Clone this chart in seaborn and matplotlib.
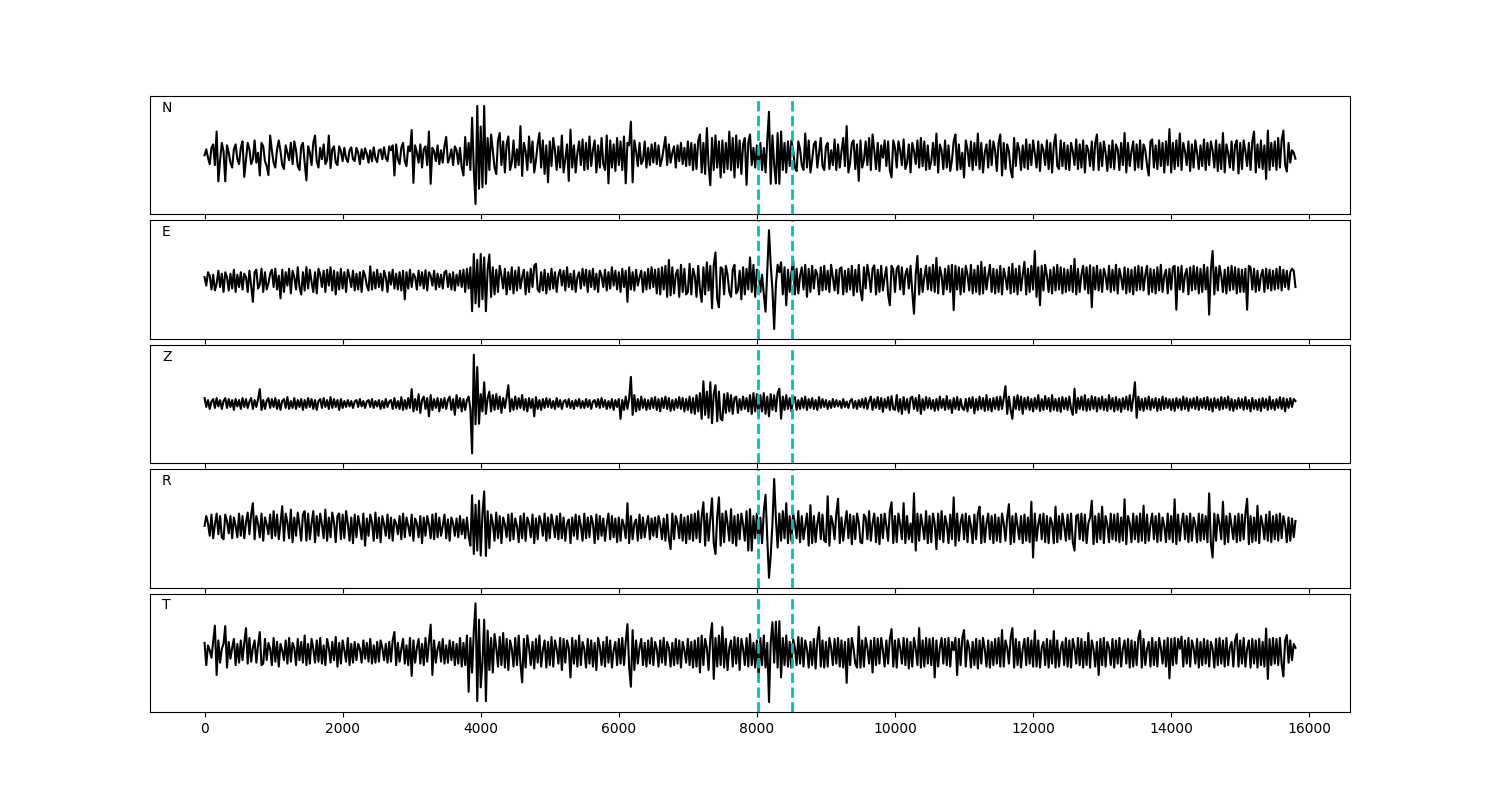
import numpy as np
import pandas as pd
import matplotlib
matplotlib.use("Agg")
import matplotlib.pyplot as plt
import seaborn as sns

# Sampling interval of the traces (samples)
dt = 25

components = ["N", "E", "Z", "R", "T"]

trace_N = [
    0, 12, -5, -18, 15, 22, -20, 48, -53, -10, 25, 8, -53, 20, 5, -15, -25, 12, 22, -8,
    -18, 15, 28, -44, -10, 25, 12, -18, -8, 30, -15, 5, -41, 25, 18, -12, -22, -40, 40, 10,
    -15, -25, 12, 30, 8, -20, -28, 20, 5, -10, 25, -18, 28, 10, -22, -30, 18, 25, -15, -51,
    18, 5, -20, 25, 40, -12, -25, 15, -8, 22, -18, -10, 40, -26, 12, 18, -15, -20, 18, 8,
    -12, 15, -6, -14, 10, 16, -8, -12, 15, 5, -18, 12, -8, 14, 3, -15, 10, -12, 16, -6,
    -14, 10, 12, -8, 16, -5, -12, 18, 10, 20, -41, 22, -8, -18, 15, 25, -12, -22, 18, 8,
    51, -56, 20, 5, -15, 22, -25, 12, 18, -20, 48, -58, 15, 8, -12, 20, -18, 10, -15, 18,
    37, -15, -5, 12, -20, 18, 10, -18, 15, -25, -41, 37, -20, 25, -30, 76, -30, -99, 100, -68,
    58, -65, 100, -58, 35, -30, 42, 10, -25, -38, 30, 45, -20, 28, -35, 22, 38, -30, -15, 30,
    -25, 12, -20, 59, -42, 25, 8, -30, 38, -15, 28, -35, -10, 22, 45, -25, 30, -38, 20, -55,
    28, -22, 35, 10, -30, 18, -25, 40, -35, -8, 22, -52, 52, -25, 20, -35, 5, 28, -20, 32,
    -30, 25, -28, 38, -22, 10, 30, -35, 20, -25, 35, -18, -30, 40, -57, 30, -25, 22, -32, 35,
    -20, 28, -30, 38, -57, 25, 20, 68, -55, 30, 8, -22, 25, -18, -10, 28, -25, 15, -20, 22,
    -15, 25, -18, 20, -22, -8, 15, 37, -20, 22, -15, 5, 18, -25, 20, -12, 25, -18, 15, -22,
    28, -20, 25, -30, 22, -28, 30, 42, -35, 25, -38, 55, -20, -61, 35, -30, 40, -25, 28, -45,
    30, -35, 25, -28, 48, -30, 35, -45, 40, -25, 30, -38, 22, 35, -60, 25, 42, -20, 15, -25,
    20, -18, 25, -30, 15, -35, 30, 88, -58, 40, -20, -57, 45, -58, 48, -30, 25, -35, 28, -22,
    30, 10, -25, -32, 28, 12, -20, -30, 44, -25, 30, -35, -10, 22, 28, -25, 5, 35, -22, -30,
    18, 25, -28, 10, -20, 32, -30, 22, -25, 8, 35, -22, 59, -35, -15, 25, 30, -28, 22, -52,
    30, -25, -10, 28, -20, 35, -30, 42, 10, -28, 25, -32, 20, -5, 30, -22, 28, -30, -45, 30,
    15, -25, 28, 10, -20, 32, -28, -15, 22, -35, 25, 8, -18, 30, -25, 35, -22, 28, -30, 20,
    -28, -12, 25, -20, 44, -35, 22, 10, -28, 30, -25, 20, -32, -10, 28, 42, -30, 22, -28, 5,
    -45, 30, 12, -22, 28, -30, 25, -20, 44, -28, 25, -35, 5, 22, -25, 30, -20, 28, 10, -32,
    25, 42, -41, 25, -28, 22, 8, -30, -45, 35, -22, 25, 10, -30, 20, -25, 32, -28, 22, -20,
    30, 5, -25, 28, -32, 22, 10, -20, 30, -28, 25, -35, 20, 42, -22, -28, 30, -22, 25, -28,
    20, -30, 25, 8, -20, 32, -28, 22, -25, 30, -35, 20, 10, -22, 28, -30, 25, 42, -30, 25,
    -22, 28, 5, -32, 20, -25, 30, -28, 22, 12, -30, 25, -20, 45, -35, 25, -22, 8, 28, -30,
    22, -25, 30, -28, 22, 10, -20, -41, 28, 32, -25, 20, -28, 30, -22, 25, -35, 28, -20, 53,
    -35, 25, -28, 30, -22, 44, -30, 25, 8, -20, 28, -32, 22, -25, 30, 5, -28, 20, -22, 32,
    -30, 25, -20, 28, 10, -25, 30, -32, 22, -28, 45, -35, 22, 5, -25, 28, -30, 20, 30, -37,
    25, -28, 30, 8, -22, 25, -30, 28, 48, -35, 22, -25, 30, -28, 20, -48, 50, -30, 25, -22,
    28, -30, 35, -25, 30, 50, -20, -33, 25, -15, 10, 5, -7,
]

trace_E = [
    5, -12, 15, 8, -20, 10, -22, -8, 18, -15, 12, -25, 15, 5, -22, 12, -18, 20, -25, 10,
    -15, 15, -20, 12, 5, -25, 18, -12, -45, 15, 20, -18, -10, 22, -25, 15, -20, -8, 12, 20,
    -15, 22, -20, 8, -38, 20, -25, 15, -12, 22, -28, 18, 5, -20, 25, -15, -30, 15, -22, 25,
    -18, 20, -5, -25, 15, -28, 22, 10, -15, 18, -25, 20, -12, 25, -22, 18, -30, 15, -20, 22,
    -18, 15, -25, 20, 5, -15, 18, -22, 12, -20, 15, -25, 18, 8, -12, -22, 27, -20, 15, -18,
    20, -15, 12, -22, 18, 5, -25, 15, -10, 20, -18, 12, -20, 15, -22, 18, -40, 15, -18, 20,
    -15, 12, 5, -20, 18, -12, 15, -18, 19, -22, 15, 8, -12, 18, -20, 12, -15, 10, -18, 15,
    18, -15, 12, -20, 15, -22, 10, -12, 18, -15, 20, -25, 22, -18, 25, -64, 52, -48, 40, -55,
    52, -40, 45, -64, 20, 51, -35, 25, -30, 20, -25, 28, 8, -18, 22, -30, 15, -20, 25, -28,
    18, -22, 25, -18, 5, 20, -30, 15, -25, 22, -15, 28, 32, -20, -25, 15, -22, 20, -28, 12,
    -20, 22, -18, 15, -25, 8, 20, -12, 18, -22, 25, -15, 12, -20, 18, -25, 5, 15, -18, 22,
    -12, 20, -25, 18, -15, 22, -20, 12, -25, 18, 8, -15, 20, -22, 15, -18, 25, -12, 18, -20,
    15, -25, 22, -15, 18, -45, 25, -20, 15, -22, 20, -12, 5, 18, -25, 15, -20, 22, -18, 25,
    -15, 20, -28, 22, -30, 25, -20, 28, -35, 40, -32, 25, -28, 10, 20, -35, 30, -25, 22, -30,
    -25, 32, -30, 22, 8, -35, 28, -20, -45, 25, -30, 35, -22, 28, -58, 30, 55, -40, -56, 25,
    22, -30, 28, 10, -25, -35, 20, 30, -28, -22, 18, -40, 25, -30, 22, -20, 45, -25, 30, -35,
    20, 15, -25, 10, -30, -65, 20, 100, 30, -20, -100, -10, 30, 15, 35, -30, 25, -52, 20, -25,
    15, 39, -30, 22, -28, 8, 25, -20, 30, -35, 22, -25, 28, -18, 20, 10, -30, 25, -22, 28,
    -20, 18, -25, 30, 5, -22, 20, -28, 22, 25, -30, 18, -25, 22, -20, 28, -32, 20, -25, 30,
    -22, -42, 25, -18, 30, 8, -25, 22, 29, -30, 20, -25, 28, -22, 5, 25, -30, -52, 28, 20,
    -25, 22, 28, -20, 25, -30, 10, 22, -18, 28, -25, -69, 10, 48, -30, 22, -25, 5, 28, -20,
    25, -22, 30, -25, 44, -28, 25, 8, -30, 22, -20, 28, -25, 30, -62, 28, -20, 25, -30, 22,
    -25, 28, 10, -22, 30, -28, 20, -25, 28, -30, 36, -28, 25, -20, 8, 30, -25, 22, -28, 20,
    -25, 28, -30, 22, 5, -20, 25, -28, 32, -25, 22, -30, 28, -22, 10, 36, -30, 22, -25, 28,
    -20, 58, -35, 25, -52, 28, -22, 30, 8, -25, 20, -28, 25, -22, 30, -20, 25, -28, 22, -25,
    20, -22, 28, -25, 42, -30, 22, -25, 10, 28, -20, 25, -28, 29, -56, 25, -20, 28, -22, 20,
    -25, 22, 8, -20, 28, -25, 20, -22, 30, -28, 22, 5, -20, 25, -28, 22, -25, 20, -30, 25,
    -22, 28, -20, 25, -22, 10, 28, -30, 22, -25, 20, -28, 25, -22, 30, -25, 8, 20, -28, 22,
    -20, 25, 28, -61, 25, -20, 28, -25, 10, 22, -30, 25, -22, 28, -20, 25, -28, 22, -25, 30,
    -20, 25, -71, 20, 58, -30, 25, -22, 28, 8, -25, 20, -28, 25, -22, 28, -20, 25, -28, 22,
    -25, 20, -25, 22, -61, 28, 25, -20, 22, -25, 18, -22, 8, 20, -25, 22, -18, 20, -22, 18,
    -20, 22, -18, 26, -22, 20, -15, 18, -20, 15, 22, 18, -15,
]

trace_Z = [
    12, -6, 8, -10, 5, 10, -8, 12, -5, 8, -10, 6, 12, -8, 10, -6, 8, -12, 10, -5,
    8, -10, 12, -6, 10, -8, 5, 12, -10, 8, -6, 10, 30, -12, 8, -10, 6, 12, -8, 10,
    -6, 12, -10, 8, -12, 6, 10, -8, 14, -10, 6, -8, 12, -10, 8, -6, 10, -12, 8, -8,
    12, -6, 10, -10, 8, -12, 6, 10, -8, 12, -6, 8, -10, 14, -8, 10, -6, 8, -12, 10,
    -8, 6, -6, 8, -5, 6, -8, 5, 8, -6, 10, -5, 6, -8, 5, 8, -6, 10, -8, 6,
    -5, 8, -10, 6, -8, 10, -6, 5, 8, -10, 12, -8, 6, -10, 14, -12, 8, -10, 12, -8,
    30, -15, 10, -12, 20, -18, 8, 15, -10, 12, -25, 18, -12, 10, -8, 12, -15, 10, -8, 12,
    -10, 8, 15, -12, 10, -22, 18, -8, 12, -15, 10, -12, 8, 15, -10, -100, 100, -41, 75, -40,
    20, -15, 44, -20, 12, 25, -15, 18, -12, 20, -10, 15, -18, 12, -8, 14, 38, -15, 10, -12,
    15, -10, 12, -8, 18, -12, 10, -15, 12, -8, 10, -25, 14, -10, 8, -12, 10, -8, 12, -6,
    10, -8, 6, -10, 12, -6, 8, -10, 5, 8, -6, 10, -8, 6, -10, 8, -5, 10, -8, 6,
    -8, 10, -6, 8, -10, 5, 8, -6, 10, -8, 12, -6, 8, -10, 6, -8, 10, -12, 8, -6,
    10, -30, 8, -12, 15, -10, 12, 55, -22, 18, -15, 10, -12, 15, -8, 10, -12, 8, -10, 12,
    -8, 14, -12, 10, -15, 12, -8, 15, -10, 12, -14, 8, -12, 10, -8, 14, -10, 12, -15, 10,
    -12, 15, -18, 12, -20, 18, -15, 22, -30, 46, -22, 25, -28, 44, -39, 20, 38, -35, 25, -30,
    -33, 20, -18, 22, -15, 18, -20, 12, 15, -18, 10, -12, 15, -10, 12, -15, 18, -20, 22, -15,
    20, -25, 18, -15, 22, -20, 15, -25, 20, -12, 18, -15, 22, 31, -30, 15, -12, 18, -10, 12,
    -15, 10, 14, -12, 8, -10, 12, -8, 15, -12, 10, -8, 12, -10, 8, -12, 14, -8, 10, -6,
    8, -10, 6, -8, 10, -6, 8, -5, 6, -8, 10, -6, 5, -8, 6, 10, -8, 6, -10, 8,
    -6, 10, -8, 12, -10, 6, 15, -12, 10, -8, 14, -10, 12, -16, 10, -8, 14, -12, 16, -10,
    -12, 18, -15, 10, -20, 14, -12, 10, -18, 12, 15, -10, 12, -14, 18, -20, 10, -12, 14, -8,
    12, -10, 8, -14, 10, -12, 15, -8, 10, -12, 16, -10, 8, -18, 12, -10, 14, -12, 10, -8,
    -12, 10, -15, 12, -8, 14, -19, 10, -12, 15, -10, 12, -14, 18, -12, 10, -15, 12, -10, 14,
    -12, 15, -10, 12, 36, -20, 15, -12, -30, 14, -10, 18, -12, 15, -20, 12, -10, 14, -12, 10,
    -15, 12, -10, 18, -14, 10, -12, 16, -10, 12, -15, 18, -12, 10, -14, 12, -16, 14, -10, 12,
    -12, 15, -10, -22, 31, -18, 12, -10, 15, -12, 18, -14, 10, -12, 16, -10, 14, -15, 12, -10,
    15, -12, 10, -14, 18, -10, 12, -15, 14, -12, 10, -16, 12, -10, 15, -12, 18, -14, 12, 44,
    -28, 15, -12, 10, -14, 12, -10, 15, -12, 10, -8, 12, -14, 10, -12, 15, -10, 12, -8, 10,
    -12, 10, -14, 12, -8, 10, -12, 15, -10, 12, -14, 10, -8, 12, -10, 14, -12, 10, -8, 12,
    -10, 14, -12, 10, -15, 12, -8, 10, -12, 14, -10, 12, -8, 15, -12, 10, -14, 8, -10, 12,
    -8, 10, -12, 14, -10, 8, -15, 12, -10, 8, -12, 10, -14, 12, -8, 10, -12, 15, -10, 8,
    -12, 10, -8, 14, -10, 12, -15, 10, -8, 12, -6, 10, 6,
]

trace_R = [
    5, 25, 10, -15, 28, -20, 8, 30, -12, 25, -18, -22, 28, 15, -10, 25, -20, 22, 5, -18,
    30, -15, 25, -20, 12, 32, -12, 28, 51, -22, 25, 10, -18, 30, -25, 22, 8, -12, 28, -20,
    35, -15, 28, -22, 10, 45, -25, 30, 12, -20, 38, -28, 22, -15, 32, 5, -25, 28, 35, -25,
    30, -22, 10, 35, -28, 25, -15, 30, 8, -20, 38, -25, 22, -18, 32, 12, -28, 25, 30, -22,
    28, -20, 35, 10, -25, 22, -30, 28, -18, 25, 5, -22, 30, -35, 20, -15, 28, 12, -25, 32,
    -20, 22, -28, 25, 8, -15, 28, -20, 22, -25, 18, 10, -12, 25, -22, 30, -18, 22, 5, -15,
    28, -25, 20, 10, -18, 25, -30, 22, -15, 25, 8, -20, 28, -22, 30, -18, 22, -15, 5, 28,
    -20, 18, -25, 22, 10, -15, 20, -18, 25, -12, 18, -20, 22, -15, -35, 67, -52, 48, -45, 56,
    -55, 30, 75, -56, 35, -40, 28, 10, -25, 32, -20, 25, -30, 22, 8, -18, 28, -25, 30, -22,
    20, 5, -28, 25, -20, 30, -25, 22, 10, -18, 28, -30, 20, -22, 25, 12, -15, 30, -25, 22,
    -20, 28, 8, -18, 25, -22, 30, -20, 22, -25, 10, 18, -30, 22, -15, 28, -22, 25, 5, -25,
    30, -20, 22, -18, 25, 10, -30, 28, -22, 25, -15, 20, -25, 8, 30, -22, 25, -18, 20, -28,
    22, -25, 18, 5, -20, 51, -30, 25, -22, 10, 18, -25, 28, -20, 22, -18, 8, 25, -22, 20,
    -15, 22, -18, 25, 8, -22, 20, -25, 28, -20, -42, 30, -22, 25, 10, -20, 28, -25, 22, -30,
    25, -22, 28, -25, 30, -20, 35, -28, 25, 53, -35, 30, -25, 20, 61, -30, -52, 25, 63, -35,
    30, -28, 35, 10, -25, 39, -30, 25, -35, 28, -22, 30, 8, -25, 35, -45, 39, -45, 25, -20,
    30, -25, 22, -30, 35, 68, -20, -100, -55, 10, 100, 20, -39, 30, -25, 35, -20, 51, -30, 25,
    -25, 30, 10, -20, 35, -28, 25, -22, 5, 30, -35, 47, -30, 25, -28, 10, 32, -22, 28, -25,
    -28, 65, -35, 25, 10, -22, 30, 60, -30, 22, -25, 8, 35, -20, 28, -32, 25, -22, 30, 12,
    -28, -30, 28, 22, -22, 35, -25, 10, 30, -28, 22, -32, 28, -20, 30, 5, -25, 35, 53, -30,
    25, -28, 30, 8, -22, 51, -30, 25, -22, 10, -28, 71, -45, 30, -25, 28, 5, -22, 35, -30,
    25, -28, 30, 10, -42, 30, -22, 35, -28, 25, 8, -30, 28, -22, 63, -35, 30, -25, 12, 28,
    -22, 30, -28, 25, 5, -30, 28, -22, 30, 44, -30, 25, -28, 10, 30, -22, 25, -30, 28, -25,
    22, -28, 30, 10, -25, 22, 49, -32, 25, -28, 30, 5, -22, 25, -30, 28, -25, 22, -28, 54,
    -59, 30, -25, 8, 28, -22, 30, -28, 25, -30, 22, 10, -30, 44, -28, 25, -22, 30, 5, -25,
    28, -22, 30, -28, -45, 25, 28, -22, 30, -25, 28, -30, 10, 22, 56, -32, 25, -28, 30, -22,
    44, -30, 25, 8, -28, 30, -22, 28, -25, 30, -28, 22, -25, 59, -32, 25, 10, -28, 30, -22,
    25, -28, 30, -25, 46, -30, 28, -25, 8, 30, -22, 25, -28, 30, -25, 22, 5, -28, 30, -22,
    25, -28, 59, -32, 28, -25, 10, 30, -22, 25, -28, 30, -25, 22, 8, -28, 30, -25, 28, -22,
    25, -28, 71, -30, -59, 30, -25, 28, 10, -22, 54, -32, 25, -28, 30, 5, -22, 25, -28, 30,
    -25, 28, -22, 30, 60, -32, 25, -28, 22, -25, 46, -30, 25, 8, -22, 28, -25, 34, -28, 25,
    -22, 28, -25, 30, -20, 25, 8, -28, 22, -25, 20, -18, 15,
]

trace_T = [
    20, -25, 15, 5, -10, 22, 55, -45, 25, -20, 8, 18, 54, -30, 22, -12, 10, 28, -25, 18,
    -20, 25, -15, 20, 50, -22, 30, -18, 10, 25, -20, 15, 42, -25, -22, 28, -15, 20, 8, -25,
    30, -18, 22, -28, 18, 5, -15, 25, -22, 30, -18, 20, 10, -25, 28, -15, 22, -20, 35, -25,
    18, -22, 28, 8, -20, 25, -18, 30, -22, 15, -25, 28, 10, -20, 22, -15, 32, -28, 20, -22,
    25, 5, -18, 30, -25, 18, -20, 22, -15, 18, 8, -20, 25, -12, 20, -18, 28, -22, 15, -20,
    22, -18, 25, 10, -15, 18, -20, 22, -18, 25, 42, -25, 20, -18, 8, 28, -22, 15, -25, 30,
    -47, 25, -20, 10, 28, -22, 18, -25, 30, -18, 22, 57, -45, 25, -20, 8, 22, -18, 28, -22,
    15, -20, 25, -15, 22, -25, 18, -22, 30, -28, 20, -25, 35, -79, 30, -40, 45, 100, -98, 67,
    -70, -20, 67, -98, 45, -35, 30, -40, 38, 10, -28, 32, -25, 40, -30, 28, -35, 25, 8, -28,
    30, -25, 35, -22, -60, 28, -30, 35, 10, -25, 22, -32, 28, -20, 35, -28, 5, 25, -30, 22,
    -25, 32, -28, 25, 8, -22, 30, -35, 28, -20, 25, 10, -50, 30, -22, 25, -28, 35, -25, 22,
    8, -30, 28, -22, 25, -28, 20, -35, 30, 12, -25, 22, -28, 32, -20, 25, -30, 5, 22, -25,
    28, -22, 30, -25, 22, 58, -30, -69, 46, -35, 25, -22, 10, 28, -25, 20, -28, 25, -22, 30,
    -25, 22, 8, -28, 25, -20, 30, -25, 22, 10, -28, 20, -25, 28, -22, 25, -30, 22, 5, -20,
    28, -25, 22, -30, 25, -28, 30, -40, 35, -25, 28, 10, -35, 30, 60, -53, 30, -28, 35, -25,
    52, -30, 28, -35, 10, 25, -28, 32, -22, 30, -35, 28, 8, -25, 30, -28, 38, -25, 20, -30,
    25, -52, 30, -25, 35, -30, 20, -100, 20, 62, -20, 63, -30, 64, -50, 30, -25, 35, -28, 22,
    -30, 28, 10, -25, 32, -22, 30, -28, 25, 8, -30, 22, -25, 28, -32, 25, 52, -28, 25, -30,
    22, -28, 30, 10, -25, 28, -22, 30, -28, 25, -30, 22, -61, 28, -25, 30, 8, -22, -30, 53,
    -30, 25, -28, 30, 10, -22, 25, -40, 30, -25, 28, -22, 30, 5, -28, 25, -22, 28, 48, -28,
    25, -30, 28, 10, -22, 30, -25, 28, -32, 22, -28, 30, 8, -25, 50, -30, 25, -28, 30, -22,
    28, -25, 30, -50, 25, -28, 10, 30, -22, 28, -25, 30, -28, 22, 5, 30, -45, 28, -25, 30,
    46, -28, 25, 10, -30, 22, -25, 28, -32, 25, -22, 30, 8, -28, 25, -30, 22, -25, 28, -22,
    30, -28, 46, -28, 25, 10, -22, 30, 50, -30, 28, -25, 22, -30, 8, 28, -25, 30, -22, 25,
    -28, 45, -28, 25, -30, 10, 22, -25, 28, -30, 25, -22, 44, -30, 25, -28, 8, 22, -25, 30,
    -28, 25, -30, 28, 10, -22, 30, -25, 28, -30, 22, -25, 40, -30, 25, 8, -28, 22, -45, 28,
    -25, 30, -28, 22, 10, -25, 28, -30, 25, -22, 30, -28, 8, 25, -22, 28, -30, 25, -28, 22,
    -25, 30, 45, -30, 28, -25, 8, 22, -28, 30, -25, 22, -28, 30, 10, -22, 25, -28, 30, -52,
    28, -25, 30, -22, 28, 8, 33, -28, 25, -22, 30, -28, 25, 10, -22, 28, -30, 22, -25, 28,
    -22, 25, -28, 22, 8, -30, 28, -25, 30, -22, 25, -28, 30, -25, 10, 22, -28, 25, 38, -28,
    25, -22, 30, -28, 8, 25, -30, 28, -22, 25, -30, 28, -25, 22, -28, 49, -53, 28, -25, 30,
    -22, 28, -25, 30, -22, -48, 25, 36, -20, 25, -15, 18, 10,
]

traces = [trace_N, trace_E, trace_Z, trace_R, trace_T]

# Picked phase window (samples)
window_start = 8020
window_end = 8515

fig, axes = plt.subplots(5, 1, figsize=(15, 8), dpi=100, sharex=True)
fig.subplots_adjust(left=0.1, right=0.9, top=0.88, bottom=0.11, hspace=0.05)

for ax, comp, tr in zip(axes, components, traces):
    df = pd.DataFrame({"t": np.arange(len(tr)) * dt, "amp": tr})
    sns.lineplot(data=df, x="t", y="amp", ax=ax, color="black", linewidth=1.5,
                 estimator=None, sort=False)
    ax.axvline(window_start, color="c", linestyle="--", linewidth=2)
    ax.axvline(window_end, color="c", linestyle="--", linewidth=2)
    ax.set_ylim(-120, 120)
    ax.set_yticks([])
    ax.set_xlabel("")
    ax.set_ylabel("")
    ax.text(0.01, 0.9, comp, transform=ax.transAxes, ha="left", va="center",
            fontsize=10)

axes[-1].set_xticks([0, 2000, 4000, 6000, 8000, 10000, 12000, 14000, 16000])
fig.savefig("out.png", dpi=100)
